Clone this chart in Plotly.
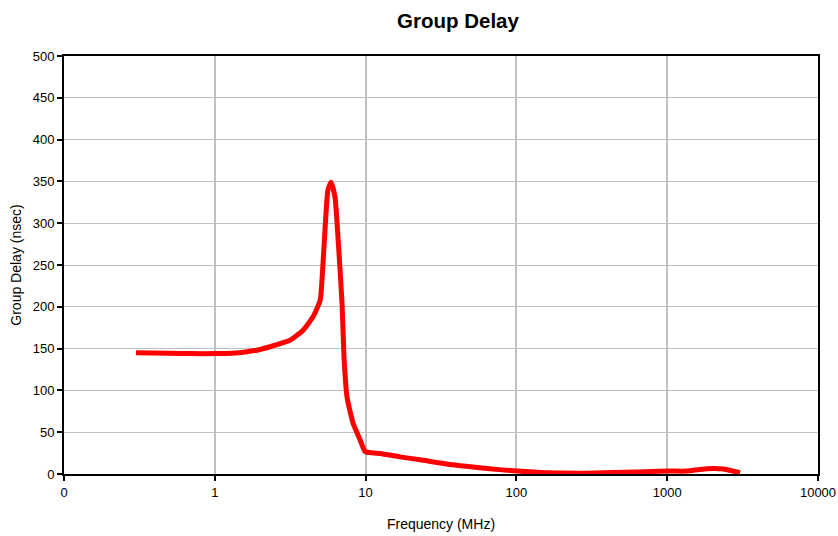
import plotly.graph_objects as go

freq_mhz = [0.3, 0.5, 0.7, 1.0, 1.3, 1.6, 2.0, 2.5, 3.15, 3.85, 4.48, 5.0, 5.14,
            5.38, 5.63, 5.9, 6.27, 6.56, 6.98, 7.19, 7.53, 8.25, 9.18, 9.61, 9.9,
            10.2, 12.5, 16.9, 23, 38, 64, 101, 160, 294, 631, 1000, 1353, 1650,
            2015, 2345, 3040]
delay_ns = [145, 144.5, 144, 144, 144.5, 146, 149, 154, 160, 172, 188, 208, 232,
            292, 340, 349, 331, 283, 204, 140, 92, 61, 41, 32, 27,
            26, 24.5, 20.5, 17, 11, 6.5, 3.5, 1.5, 1, 2.5, 3.5, 3.5, 5.5,
            6.5, 6, 1.5]

x_tickvals = [0.1, 1, 10, 100, 1000, 10000]
x_ticktext = ["0", "1", "10", "100", "1000", "10000"]
y_tickvals = list(range(0, 501, 50))

fig = go.Figure()
fig.add_trace(go.Scatter(x=freq_mhz, y=delay_ns, mode="lines",
                         line=dict(color="#ff0000", width=5, shape="spline", smoothing=0.5),
                         hoverinfo="skip", showlegend=False))

fig.update_layout(
    width=838, height=536,
    margin=dict(l=64, r=20, t=56, b=62, autoexpand=False),
    paper_bgcolor="white", plot_bgcolor="white",
    font=dict(family="Liberation Sans, Arial, sans-serif", size=12, color="black"),
    title=dict(text="<b>Group Delay</b>", x=0.5465, xref="container", xanchor="center",
               y=1 - 21 / 536, yref="container", yanchor="middle",
               font=dict(size=20.5, color="black")),
    showlegend=False,
)
fig.update_xaxes(type="log", range=[-1, 4], tickvals=x_tickvals, ticktext=x_ticktext,
                 showgrid=True, gridcolor="#c0c0c0", gridwidth=2,
                 showline=True, linecolor="black", linewidth=2, mirror=True,
                 ticks="outside", ticklen=5, tickwidth=1.5, tickcolor="black",
                 zeroline=False, automargin=False,
                 title=dict(text="Frequency (MHz)", font=dict(size=14), standoff=21),
                 tickfont=dict(size=13))
fig.update_yaxes(range=[0, 500], tickvals=y_tickvals,
                 showgrid=True, gridcolor="#c0c0c0", gridwidth=1,
                 showline=True, linecolor="black", linewidth=2, mirror=True,
                 ticks="outside", ticklen=5, tickwidth=1.5, tickcolor="black",
                 zeroline=False, automargin=False,
                 title=dict(text="Group Delay (nsec)", font=dict(size=14), standoff=8),
                 tickfont=dict(size=13))

fig.write_html("out.html", config={"displayModeBar": False},
               post_script="document.body.style.margin='0';")
